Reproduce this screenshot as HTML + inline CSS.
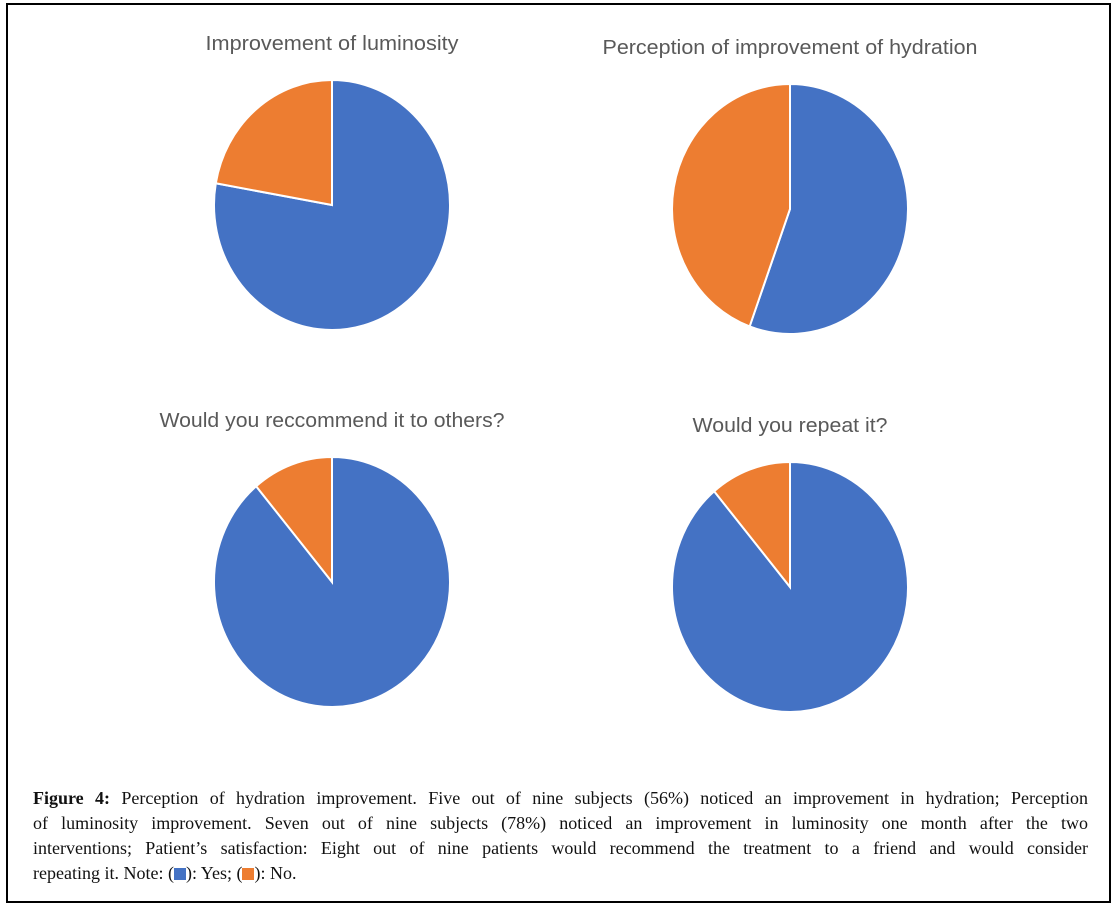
<!DOCTYPE html>
<html><head><meta charset="utf-8"><style>
body{margin:0;background:#fff;width:1119px;height:910px;overflow:hidden;position:relative}
#frame{position:absolute;left:6px;top:3px;width:1105px;height:900px;border:2px solid #000;box-sizing:border-box}
#caption{position:absolute;left:33px;top:786px;width:1055px;font-family:"Liberation Serif",serif;font-size:18px;line-height:25px;color:#111}
#caption .ln{text-align:justify;text-align-last:justify;white-space:nowrap}
#caption .ln.last{text-align-last:left}
.sw{display:inline-block;width:12px;height:12px;vertical-align:-1px}
</style></head><body>
<div id="frame"></div>
<svg id="chart" width="1119" height="780" style="position:absolute;left:0;top:0"></svg>
<div id="caption">
<div class="ln"><b>Figure 4:</b> Perception of hydration improvement. Five out of nine subjects (56%) noticed an improvement in hydration; Perception</div>
<div class="ln">of luminosity improvement. Seven out of nine subjects (78%) noticed an improvement in luminosity one month after the two</div>
<div class="ln">interventions; Patient’s satisfaction: Eight out of nine patients would recommend the treatment to a friend and would consider</div>
<div class="ln last">repeating it. Note: (<span class="sw" style="background:#4472c4"></span>): Yes; (<span class="sw" style="background:#ed7d31"></span>): No.</div>
</div>
<script>
const titles=["Improvement of luminosity","Perception of improvement of hydration","Would you reccommend it to others?","Would you repeat it?"];
const yesValues=[7,5,8,8];
const noValues=[2,4,1,1];
const layout=[{cx:332,cy:205,tx:332,ty:50,tw:253},{cx:790,cy:209,tx:790,ty:54,tw:375},{cx:332,cy:582,tx:332,ty:427,tw:345},{cx:790,cy:587,tx:790,ty:432,tw:195}];
const NS="http://www.w3.org/2000/svg";
const svg=document.getElementById('chart');
const rx=118,ry=125;
function pt(c,a){return [c.cx+rx*Math.sin(a),c.cy-ry*Math.cos(a)];}
function slice(c,a0,a1,color,name){
  const p0=pt(c,a0),p1=pt(c,a1),large=(a1-a0)>Math.PI?1:0;
  const p=document.createElementNS(NS,'path');
  p.setAttribute('d',`M${c.cx},${c.cy} L${p0[0]},${p0[1]} A${rx},${ry} 0 ${large} 1 ${p1[0]},${p1[1]} Z`);
  p.setAttribute('fill',color);p.setAttribute('stroke','#fff');p.setAttribute('stroke-width','2');
  
  
  svg.appendChild(p);
}
titles.forEach((t,i)=>{
  const c=layout[i],tot=yesValues[i]+noValues[i];
  const a=2*Math.PI*yesValues[i]/tot;
  slice(c,0,a,'#4472c4','slice-yes');
  slice(c,a,2*Math.PI,'#ed7d31','slice-no');
  const tx=document.createElementNS(NS,'text');
  tx.setAttribute('x',c.tx);tx.setAttribute('y',c.ty);tx.setAttribute('text-anchor','middle');
  tx.setAttribute('font-family','Liberation Sans, sans-serif');tx.setAttribute('font-size','20');
  tx.setAttribute('fill','#595959');tx.setAttribute('textLength',c.tw);tx.setAttribute('lengthAdjust','spacingAndGlyphs');
  tx.textContent=t;
  
  
  svg.appendChild(tx);
});
</script>
</body></html>
